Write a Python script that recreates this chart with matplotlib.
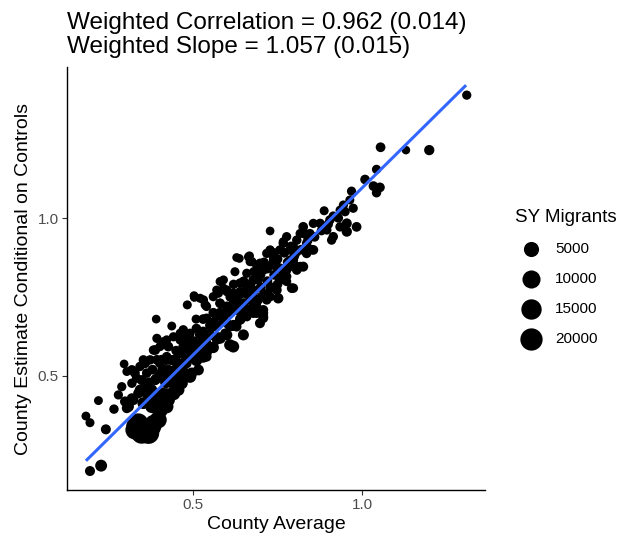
import numpy as np
import matplotlib
matplotlib.use("Agg")
import matplotlib.pyplot as plt

plt.rcParams['font.family'] = ['Liberation Sans', 'DejaVu Sans']

# county points: (county average, conditional estimate, SY migrants)
county_avg = [
    1.310, 1.055, 1.130, 1.199, 1.043, 1.009, 1.034, 1.053, 1.043, 0.969,
    0.888, 0.945, 0.935, 0.974, 0.964, 0.915, 0.905, 0.826, 0.856, 0.876,
    0.955, 0.984, 0.955, 0.935, 0.896, 0.846, 0.915, 0.910, 0.728,
    0.817, 0.836, 0.807, 0.777, 0.767, 0.757, 0.787, 0.797, 0.817, 0.777,
    0.826, 0.836, 0.807, 0.856, 0.836, 0.767, 0.797,
    0.728, 0.738, 0.708, 0.748, 0.767, 0.757, 0.748, 0.728, 0.752, 0.792,
    0.777, 0.698, 0.678, 0.659, 0.639, 0.619, 0.600, 0.639, 0.669, 0.688,
    0.708, 0.590,
    0.637, 0.667, 0.624, 0.669, 0.718, 0.698, 0.738, 0.708, 0.674,
    0.688, 0.693, 0.649, 0.639, 0.669, 0.703, 0.678, 0.708, 0.698, 0.708,
    0.718, 0.708, 0.688, 0.797, 0.777, 0.787, 0.797, 0.777, 0.807,
    0.391, 0.437, 0.483, 0.503, 0.521, 0.536, 0.509, 0.540, 0.580, 0.590,
    0.575, 0.600, 0.570, 0.560, 0.540, 0.629, 0.664, 0.659, 0.629, 0.639,
    0.659, 0.678, 0.609, 0.600, 0.629, 0.629,
    0.580, 0.590, 0.560, 0.570, 0.550, 0.531, 0.540, 0.521, 0.501, 0.491,
    0.471, 0.462, 0.442, 0.422, 0.402, 0.383, 0.373, 0.353, 0.363, 0.402,
    0.422, 0.462, 0.481, 0.491, 0.511, 0.540,
    0.649, 0.609, 0.619, 0.600, 0.595, 0.570, 0.540,
    0.393, 0.412, 0.462, 0.481, 0.504, 0.531,
    0.296, 0.304, 0.220, 0.183, 0.195, 0.242, 0.195, 0.228, 0.266, 0.279,
    0.289,
    0.348, 0.378, 0.338, 0.397, 0.368, 0.328, 0.363, 0.333, 0.348, 0.383,
    0.402, 0.422,
    0.378, 0.407, 0.309, 0.299, 0.319, 0.304, 0.323, 0.353, 0.363, 0.343,
    0.338, 0.358, 0.348, 0.328, 0.319, 0.358, 0.333, 0.319,
    0.388, 0.407, 0.427, 0.447, 0.467, 0.476, 0.447, 0.407, 0.388, 0.427,
    0.378, 0.407, 0.427, 0.457, 0.442, 0.496, 0.516, 0.525, 0.496,
    0.432, 0.412, 0.393, 0.432, 0.471, 0.501, 0.521, 0.343, 0.353,
    # dense core along the fitted line
    0.42, 0.45, 0.48, 0.50, 0.52, 0.55, 0.57, 0.59, 0.61, 0.63,
    0.65, 0.66, 0.68, 0.70, 0.72, 0.74, 0.76, 0.78, 0.80, 0.82,
    0.84, 0.86, 0.88, 0.90, 0.93, 0.95,
    0.45, 0.48, 0.51, 0.53, 0.56, 0.58, 0.61, 0.62, 0.65, 0.68,
    0.71, 0.74, 0.40, 0.37, 0.42, 0.38, 0.43, 0.46, 0.49, 0.52,
    0.55, 0.57, 0.60, 0.63, 0.66, 0.70, 0.73,
    0.45, 0.48, 0.53, 0.56, 0.60, 0.64, 0.67, 0.72, 0.75, 0.80,
    0.85, 0.39, 0.42,
    0.36, 0.39, 0.41, 0.44, 0.47, 0.50, 0.53, 0.56, 0.58, 0.62,
    0.64, 0.67, 0.69, 0.72, 0.75, 0.77, 0.79, 0.83,
    0.40, 0.44, 0.47, 0.51, 0.54, 0.58, 0.62, 0.65, 0.69, 0.73,
    0.77,
]
county_est = [
    1.389, 1.224, 1.215, 1.215, 1.154, 1.122, 1.101, 1.097, 1.080, 1.085,
    1.023, 1.041, 1.025, 1.031, 1.057, 1.006, 0.994, 0.972, 0.983, 0.983,
    0.983, 0.972, 0.957, 0.972, 0.962, 0.951, 0.941, 0.930, 0.959,
    0.951, 0.920, 0.930, 0.941, 0.920, 0.899, 0.899, 0.867, 0.846, 0.846,
    0.846, 0.899, 0.893, 0.899, 0.888, 0.925, 0.909,
    0.899, 0.877, 0.857, 0.846, 0.825, 0.804, 0.772, 0.751, 0.746, 0.778,
    0.815, 0.825, 0.804, 0.783, 0.794, 0.762, 0.772, 0.730, 0.741, 0.720,
    0.699, 0.804,
    0.872, 0.880, 0.830, 0.862, 0.888, 0.857, 0.867, 0.835, 0.862,
    0.851, 0.804, 0.799, 0.767, 0.762, 0.751, 0.720, 0.688, 0.667, 0.683,
    0.741, 0.709, 0.699, 0.778, 0.799, 0.867, 0.846, 0.835, 0.835,
    0.680, 0.658, 0.725, 0.754, 0.746, 0.725, 0.680, 0.683, 0.799, 0.778,
    0.762, 0.767, 0.772, 0.751, 0.720, 0.875, 0.877, 0.825, 0.656, 0.677,
    0.688, 0.699, 0.656, 0.720, 0.720, 0.751,
    0.730, 0.699, 0.656, 0.624, 0.593, 0.614, 0.561, 0.582, 0.604, 0.635,
    0.646, 0.614, 0.624, 0.614, 0.593, 0.582, 0.551, 0.540, 0.509, 0.540,
    0.561, 0.572, 0.540, 0.498, 0.561, 0.572,
    0.630, 0.598, 0.593, 0.667, 0.635, 0.614, 0.604,
    0.619, 0.608, 0.635, 0.624, 0.749, 0.741,
    0.538, 0.514, 0.422, 0.373, 0.352, 0.331, 0.199, 0.216, 0.395, 0.440,
    0.466,
    0.335, 0.340, 0.350, 0.361, 0.319, 0.329, 0.329, 0.340, 0.319, 0.350,
    0.392, 0.403,
    0.403, 0.403, 0.403, 0.419, 0.429, 0.398, 0.424, 0.414, 0.445, 0.456,
    0.445, 0.456, 0.487, 0.509, 0.519, 0.540, 0.493, 0.477,
    0.487, 0.509, 0.519, 0.487, 0.477, 0.509, 0.551, 0.551, 0.582, 0.593,
    0.456, 0.445, 0.424, 0.456, 0.445, 0.509, 0.519, 0.572, 0.593,
    0.487, 0.519, 0.551, 0.551, 0.593, 0.582, 0.593, 0.530, 0.551,
    0.48, 0.52, 0.55, 0.57, 0.60, 0.63, 0.66, 0.68, 0.70, 0.71,
    0.73, 0.76, 0.77, 0.78, 0.80, 0.82, 0.84, 0.86, 0.88, 0.90,
    0.93, 0.94, 0.96, 0.98, 1.00, 1.02,
    0.58, 0.61, 0.65, 0.68, 0.70, 0.73, 0.75, 0.79, 0.80, 0.83,
    0.86, 0.89, 0.50, 0.48, 0.55, 0.52, 0.50, 0.54, 0.58, 0.63,
    0.66, 0.69, 0.72, 0.75, 0.78, 0.82, 0.85,
    0.47, 0.50, 0.56, 0.59, 0.63, 0.68, 0.71, 0.76, 0.79, 0.85,
    0.90, 0.42, 0.44,
    0.46, 0.49, 0.52, 0.55, 0.58, 0.61, 0.64, 0.67, 0.70, 0.73,
    0.76, 0.79, 0.81, 0.84, 0.87, 0.89, 0.91, 0.95,
    0.44, 0.48, 0.51, 0.55, 0.58, 0.62, 0.66, 0.70, 0.74, 0.78,
    0.82,
]
sy_migrants = [
    150, 300, 30, 500, 150, 250, 300, 300, 200, 150,
    100, 150, 100, 150, 100, 200, 200, 300, 150, 200,
    400, 300, 500, 200, 150, 150, 200, 150, 50,
    150, 200, 200, 150, 200, 150, 200, 200, 300, 150,
    400, 200, 200, 300, 250, 100, 150,
    150, 200, 150, 300, 200, 300, 300, 200, 600, 300,
    200, 200, 250, 200, 200, 200, 150, 250, 250, 300,
    300, 100,
    50, 100, 100, 150, 150, 150, 200, 150, 150,
    100, 200, 200, 200, 200, 250, 250, 300, 400, 300,
    250, 300, 300, 200, 150, 150, 200, 200, 200,
    50, 80, 100, 80, 100, 150, 100, 150, 100, 100,
    150, 150, 100, 150, 150, 50, 100, 150, 300, 250,
    250, 300, 250, 200, 250, 200,
    200, 200, 200, 250, 300, 250, 400, 300, 250, 200,
    200, 200, 150, 150, 150, 200, 200, 200, 250, 250,
    250, 300, 400, 2000, 400, 400,
    900, 1200, 1500, 300, 300, 300, 300,
    150, 150, 150, 200, 100, 100,
    50, 80, 80, 80, 100, 400, 400, 1500, 200, 150,
    150,
    15000, 12000, 14000, 8000, 18000, 12000, 20000, 16000, 17000, 8000,
    6000, 3000,
    2500, 2500, 800, 500, 500, 400, 600, 1500, 800, 600,
    500, 600, 400, 300, 300, 300, 200, 200,
    500, 600, 600, 1200, 1500, 800, 500, 400, 300, 300,
    800, 1500, 2500, 1500, 3500, 1000, 800, 500, 300,
    800, 500, 300, 400, 300, 300, 300, 200, 200,
    1500, 1200, 1000, 1200, 900, 800, 700, 600, 600, 700,
    500, 400, 400, 400, 300, 300, 300, 300, 250, 250,
    200, 200, 200, 200, 200, 150,
    300, 300, 300, 300, 300, 250, 250, 200, 200, 200,
    200, 150, 300, 300, 300, 300, 400, 400, 400, 300,
    300, 300, 300, 250, 250, 200, 200,
    2000, 1500, 1200, 1000, 900, 700, 600, 400, 300, 300,
    250, 4000, 3000,
    600, 600, 600, 500, 500, 500, 500, 500, 400, 400,
    400, 400, 300, 300, 300, 300, 300, 250,
    2500, 2000, 1800, 1500, 1400, 1200, 1000, 900, 800, 600,
    500,
]
legend_values = [5000, 10000, 15000, 20000]

fit_slope = 1.057
fit_intercept = 0.038
fit_range = [0.183, 1.308]

title_text = "Weighted Correlation = 0.962 (0.014)\nWeighted Slope = 1.057 (0.015)"


def marker_area(v):
    # area in pt^2, diameter grows with sqrt of migrants (ggplot area scale)
    d_px = 8 + 0.101 * np.sqrt(np.asarray(v, dtype=float))
    return (d_px * 0.72) ** 2


fig = plt.figure(figsize=(6.21, 5.41), dpi=100)
ax = fig.add_axes([0.1079, 0.0943, 0.6731, 0.7818])

ax.scatter(county_avg, county_est, s=marker_area(sy_migrants), c="black",
           linewidths=0, zorder=2)

xs = np.array(fit_range)
ax.plot(xs, fit_intercept + fit_slope * xs, color="#3366FF", lw=2.2,
        solid_capstyle="butt", zorder=3)

ax.set_xlim(0.127, 1.364)
ax.set_ylim(0.139, 1.478)
ax.set_xticks([0.5, 1.0])
ax.set_yticks([0.5, 1.0])
ax.set_xticklabels(["0.5", "1.0"])
ax.set_yticklabels(["0.5", "1.0"])
ax.tick_params(colors="#333333", labelcolor="#4D4D4D", labelsize=11,
               length=3.5, width=0.8, pad=2.5)

for side in ["top", "right"]:
    ax.spines[side].set_visible(False)
for side in ["left", "bottom"]:
    ax.spines[side].set_linewidth(1.0)

ax.set_xlabel("County Average", fontsize=14, labelpad=3)
ax.set_ylabel("County Estimate Conditional on Controls", fontsize=14, labelpad=4)
# fixed y so matplotlib does not re-place the title
ax.set_title(title_text, loc="left", fontsize=17.5, y=1.0, pad=10,
             linespacing=1.12)

# size legend
handles = [ax.scatter([], [], s=marker_area(v), c="black", linewidths=0)
           for v in legend_values]
leg = ax.legend(handles, [str(v) for v in legend_values], title="SY Migrants",
                loc="upper left", bbox_to_anchor=(1.058, 0.678), frameon=False,
                fontsize=11, title_fontsize=13.5, labelspacing=1.05,
                handlelength=2.0, handletextpad=0.6, borderaxespad=0)
leg._legend_box.align = "left"

fig.savefig("out.png", dpi=100)
